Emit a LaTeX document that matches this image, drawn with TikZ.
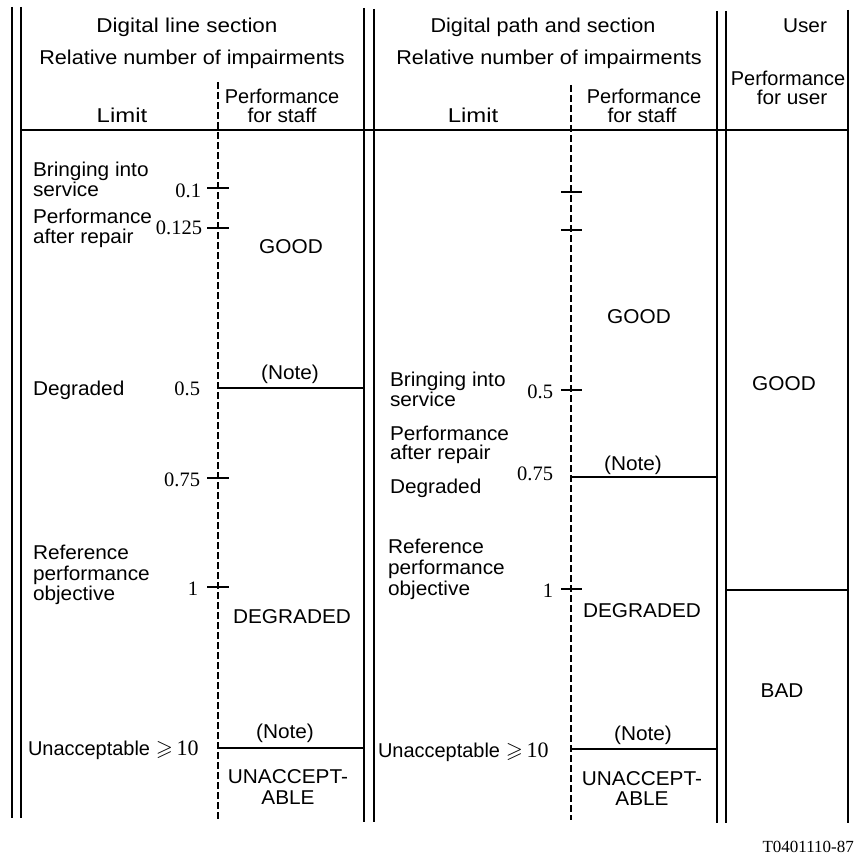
\documentclass[tikz,border=0pt]{standalone}
\usepackage{amssymb}
\usepackage{graphicx}
\usepackage{fontspec}
\setmainfont[FakeStretch=1.04]{Liberation Sans}
\newfontfamily\numfont{Liberation Serif}
\begin{document}
\begin{tikzpicture}[x=1pt,y=-1pt,
  txt/.style={font=\fontsize{20}{22}\selectfont, inner sep=0pt, outer sep=0pt},
  lbl/.style={txt, anchor=base west},
  ctr/.style={txt, anchor=base},
  num/.style={font=\numfont\fontsize{20.5}{22}\selectfont, inner sep=0pt, outer sep=0pt, anchor=base east},
  thickrule/.style={line width=2.2pt},
  thinrule/.style={line width=1.4pt},
  dashrule/.style={line width=1.2pt, dash pattern=on 7pt off 3pt},
  tickmark/.style={line width=1.2pt},
  noteline/.style={line width=1.3pt}]
\useasboundingbox (0,0) rectangle (854,856);

% ---- frame lines
\coordinate (L1t) at (12,7);   \coordinate (L1b) at (12,818);
\coordinate (L2t) at (21,7);   \coordinate (L2b) at (21,818);
\coordinate (M1t) at (364,8);  \coordinate (M1b) at (364,822);
\coordinate (M2t) at (374,9);  \coordinate (M2b) at (374,822);
\coordinate (R1t) at (717,11); \coordinate (R1b) at (717,823);
\coordinate (R2t) at (726,11); \coordinate (R2b) at (726,823);
\coordinate (R3t) at (848,10); \coordinate (R3b) at (848,823);
\coordinate (D1t) at (218,82); \coordinate (D1b) at (218,820);
\coordinate (D2t) at (571,85); \coordinate (D2b) at (571,820);
\coordinate (Hl) at (21,130);  \coordinate (Hr) at (848,130);

\draw[thinrule] (L1t) -- (L1b);
\draw[thickrule] (L2t) -- (L2b);
\draw[thinrule] (M1t) -- (M1b);
\draw[thickrule] (M2t) -- (M2b);
\draw[thickrule] (R1t) -- (R1b);
\draw[thinrule] (R2t) -- (R2b);
\draw[thinrule] (R3t) -- (R3b);
\draw[dashrule] (D1t) -- (D1b);
\draw[dashrule] (D2t) -- (D2b);
\draw[thinrule] (Hl) -- (Hr);

% ---- header
\node[ctr] (h1a) at (187,33) {\scalebox{1.08}[1]{Digital line section}};
\node[ctr] (h1b) at (192,65) {\scalebox{1.04}[1]{Relative number of impairments}};
\node[ctr] (h1c) at (122,122) {\scalebox{1.15}[1]{Limit}};
\node[ctr] (h1d) at (282,103) {\scalebox{0.96}[1]{Performance}};
\node[ctr] (h1e) at (282,122) {for staff};
\node[ctr] (h2a) at (543,33) {\scalebox{1.04}[1]{Digital path and section}};
\node[ctr] (h2b) at (549,65) {\scalebox{1.04}[1]{Relative number of impairments}};
\node[ctr] (h2c) at (473,122) {\scalebox{1.15}[1]{Limit}};
\node[ctr] (h2d) at (644,103) {\scalebox{0.96}[1]{Performance}};
\node[ctr] (h2e) at (642,122) {for staff};
\node[ctr] (h3a) at (805,33) {User};
\node[ctr] (h3b) at (788,86) {\scalebox{0.96}[1]{Performance}};
\node[ctr] (h3c) at (792,105) {for user};

% ---- left section (digital line section)
\coordinate (lt1a) at (207,188); \coordinate (lt1b) at (229,188);
\coordinate (lt2a) at (207,228); \coordinate (lt2b) at (229,228);
\coordinate (lt3a) at (207,478); \coordinate (lt3b) at (229,478);
\coordinate (lt4a) at (207,587); \coordinate (lt4b) at (229,587);
\draw[tickmark] (lt1a) -- (lt1b);
\draw[tickmark] (lt2a) -- (lt2b);
\draw[tickmark] (lt3a) -- (lt3b);
\draw[tickmark] (lt4a) -- (lt4b);
\coordinate (ln1a) at (218,388); \coordinate (ln1b) at (364,388);
\coordinate (ln2a) at (218,748); \coordinate (ln2b) at (364,748);
\draw[noteline] (ln1a) -- (ln1b);
\draw[noteline] (ln2a) -- (ln2b);

\node[lbl] (l1a) at (33,176) {Bringing into};
\node[lbl] (l1b) at (33,196) {service};
\node[num] (l1n) at (201,197) {0.1};
\node[lbl] (l2a) at (33,223) {Performance};
\node[lbl] (l2b) at (33,243) {after repair};
\node[num] (l2n) at (202,234) {0.125};
\node[ctr] (lgood) at (291,253) {GOOD};
\node[ctr] (lnote1) at (290,379) {(Note)};
\node[lbl] (l3a) at (33,395) {Degraded};
\node[num] (l3n) at (200,395) {0.5};
\node[num] (l4n) at (200,486) {0.75};
\node[lbl] (l5a) at (33,559) {Reference};
\node[lbl] (l5b) at (33,580) {performance};
\node[lbl] (l5c) at (33,600) {objective};
\node[num] (l5n) at (198,595) {1};
\node[ctr] (ldeg) at (292,623) {DEGRADED};
\node[ctr] (lnote2) at (285,738) {(Note)};
\node[lbl] (l6a) at (28,755) {\scalebox{0.96}[1]{Unacceptable} {\numfont\fontsize{22}{24}\selectfont$\geqslant$\,10}};
\node[ctr] (lun1) at (288,783) {UNACCEPT-};
\node[ctr] (lun2) at (288,804) {ABLE};

% ---- middle section (digital path and section)
\coordinate (mt1a) at (561,192); \coordinate (mt1b) at (582,192);
\coordinate (mt2a) at (561,230); \coordinate (mt2b) at (582,230);
\coordinate (mt3a) at (561,390); \coordinate (mt3b) at (582,390);
\coordinate (mt4a) at (561,589); \coordinate (mt4b) at (582,589);
\draw[tickmark] (mt1a) -- (mt1b);
\draw[tickmark] (mt2a) -- (mt2b);
\draw[tickmark] (mt3a) -- (mt3b);
\draw[tickmark] (mt4a) -- (mt4b);
\coordinate (mn1a) at (571,477); \coordinate (mn1b) at (717,477);
\coordinate (mn2a) at (571,749); \coordinate (mn2b) at (717,749);
\draw[noteline] (mn1a) -- (mn1b);
\draw[noteline] (mn2a) -- (mn2b);

\node[ctr] (mgood) at (639,323) {GOOD};
\node[lbl] (m1a) at (390,386) {Bringing into};
\node[lbl] (m1b) at (390,406) {service};
\node[num] (m1n) at (553,398) {0.5};
\node[lbl] (m2a) at (390,440) {Performance};
\node[lbl] (m2b) at (390,459) {after repair};
\node[ctr] (mnote1) at (633,470) {(Note)};
\node[num] (m2n) at (553,480) {0.75};
\node[lbl] (m3a) at (390,493) {Degraded};
\node[lbl] (m4a) at (388,553) {Reference};
\node[lbl] (m4b) at (388,574) {performance};
\node[lbl] (m4c) at (388,595) {objective};
\node[num] (m4n) at (553,597) {1};
\node[ctr] (mdeg) at (642,617) {DEGRADED};
\node[ctr] (mnote2) at (643,740) {(Note)};
\node[lbl] (m5a) at (378,757) {\scalebox{0.96}[1]{Unacceptable} {\numfont\fontsize{22}{24}\selectfont$\geqslant$\,10}};
\node[ctr] (mun1) at (642,785) {UNACCEPT-};
\node[ctr] (mun2) at (642,805) {ABLE};

% ---- user section
\coordinate (un1a) at (726,590); \coordinate (un1b) at (848,590);
\draw[noteline] (un1a) -- (un1b);
\node[ctr] (ugood) at (784,390) {GOOD};
\node[ctr] (ubad) at (782,697) {BAD};

% ---- figure code
\node[font=\numfont\fontsize{17}{19}\selectfont, inner sep=0pt, anchor=base east] (code) at (854,852) {T0401110-87};
\end{tikzpicture}
\end{document}
